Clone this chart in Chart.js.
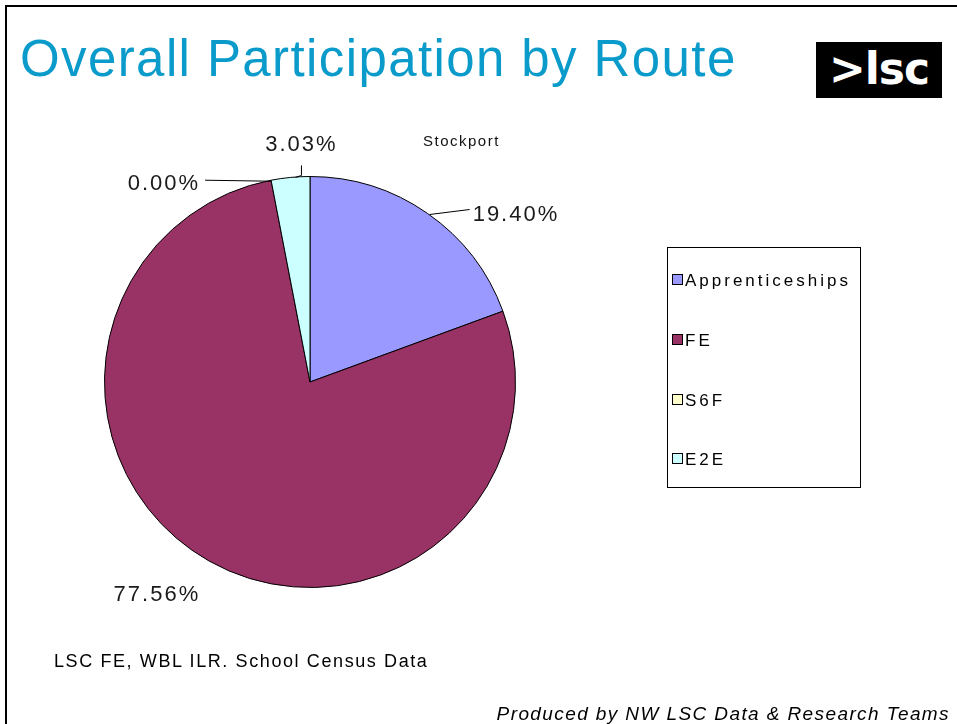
<!DOCTYPE html>
<html>
<head>
<meta charset="utf-8">
<script src="https://cdn.jsdelivr.net/npm/chart.js@4/dist/chart.umd.min.js"></script>
<style>
  body { margin: 0; background: #fff; width: 957px; height: 724px; overflow: hidden; position: relative; font-family: "Liberation Sans", Arial, sans-serif; }
  #frame { position: absolute; left: 5px; top: 5px; width: 1000px; height: 800px; border-left: 2px solid #000; border-top: 2px solid #000; }
  #title { position: absolute; left: 20px; top: 29px; font-size: 51px; letter-spacing: 1.4px; color: #0a9bcb; white-space: nowrap; }
  #logo { position: absolute; left: 816px; top: 42px; width: 126px; height: 56px; background: #000; color: #fff; font: bold 44px "DejaVu Sans", sans-serif; text-align: center; line-height: 54px; letter-spacing: -1px; }
  #chart { position: absolute; left: 0; top: 0; }
  #stock { position: absolute; left: 423px; top: 132px; font-size: 15px; letter-spacing: 1.5px; color: #111; }
  #legend { position: absolute; left: 667px; top: 247px; width: 192px; height: 239px; border: 1px solid #000; }
  .item { position: absolute; left: 4px; font-size: 17px; letter-spacing: 3px; white-space: nowrap; }
  .item span.box { display: inline-block; width: 9px; height: 9px; border: 1px solid #000; margin-right: 2px; vertical-align: 1px; }
  #source { position: absolute; left: 54px; top: 651px; font-size: 18px; letter-spacing: 1.6px; white-space: nowrap; }
  #footer { position: absolute; right: 7px; top: 703px; font-size: 19px; font-style: italic; letter-spacing: 1.4px; white-space: nowrap; }
</style>
</head>
<body>
<div id="frame"></div>
<div id="title">Overall Participation by Route</div>
<div id="logo">&gt;lsc</div>
<canvas id="chart" width="957" height="724"></canvas>
<div id="stock">Stockport</div>
<div id="legend"></div>
<div id="source">LSC FE, WBL ILR. School Census Data</div>
<div id="footer">Produced by NW LSC Data &amp; Research Teams</div>
<script>
var routes = ['Apprenticeships', 'FE', 'S6F', 'E2E'];
var shares = [19.40, 77.56, 0.00, 3.03];
var colours = ['#9999ff', '#993366', '#ffffcc', '#ccffff'];

// build the legend box
var legendTops = [23, 83, 143, 202];
routes.forEach(function (r, i) {
    var d = document.createElement('div');
    d.className = 'item';
    d.style.top = legendTops[i] + 'px';
    d.innerHTML = '<span class="box" style="background:' + colours[i] + '"></span>' + r;
    document.getElementById('legend').appendChild(d);
});

// excel style outside labels with leader lines
var labelLayout = [
    { dx: 45, dy: 1, align: 'left', line: [[2, 1], [42, -4]] },
    { dx: -52, dy: 34, align: 'center', line: null },
    { dx: -71, dy: 4, align: 'right', line: [[0, 1], [-66, 0]] },
    { dx: 11, dy: -32, align: 'center', line: [[5, 0], [11, -2], [11, -12]] }
];

var pieLabels = {
    id: 'pieLabels',
    afterDatasetsDraw: function (chart) {
        var ctx = chart.ctx;
        var arcs = chart.getDatasetMeta(0).data;
        ctx.save();
        ctx.font = '22px "Liberation Sans", Arial, sans-serif';
        ctx.letterSpacing = '2px';
        ctx.fillStyle = '#1a1a1a';
        ctx.strokeStyle = '#000';
        ctx.lineWidth = 1;
        ctx.textBaseline = 'middle';
        arcs.forEach(function (arc, i) {
            var mid = (arc.startAngle + arc.endAngle) / 2;
            var ex = arc.x + Math.cos(mid) * arc.outerRadius;
            var ey = arc.y + Math.sin(mid) * arc.outerRadius;
            var L = labelLayout[i];
            if (L.line) {
                ctx.beginPath();
                L.line.forEach(function (p, k) {
                    if (k === 0) ctx.moveTo(ex + p[0], ey + p[1]);
                    else ctx.lineTo(ex + p[0], ey + p[1]);
                });
                ctx.stroke();
            }
            ctx.textAlign = L.align;
            ctx.fillText(shares[i].toFixed(2) + '%', ex + L.dx, ey + L.dy);
        });
        ctx.restore();
    }
};

new Chart(document.getElementById('chart'), {
    type: 'pie',
    data: {
        labels: routes,
        datasets: [{
            data: shares,
            backgroundColor: colours,
            borderColor: '#000',
            borderWidth: 1
        }]
    },
    options: {
        responsive: false,
        animation: false,
        layout: { padding: { left: 104, top: 176, right: 441, bottom: 136 } },
        plugins: {
            legend: { display: false },
            tooltip: { enabled: false }
        }
    },
    plugins: [pieLabels]
});
</script>
</body>
</html>
